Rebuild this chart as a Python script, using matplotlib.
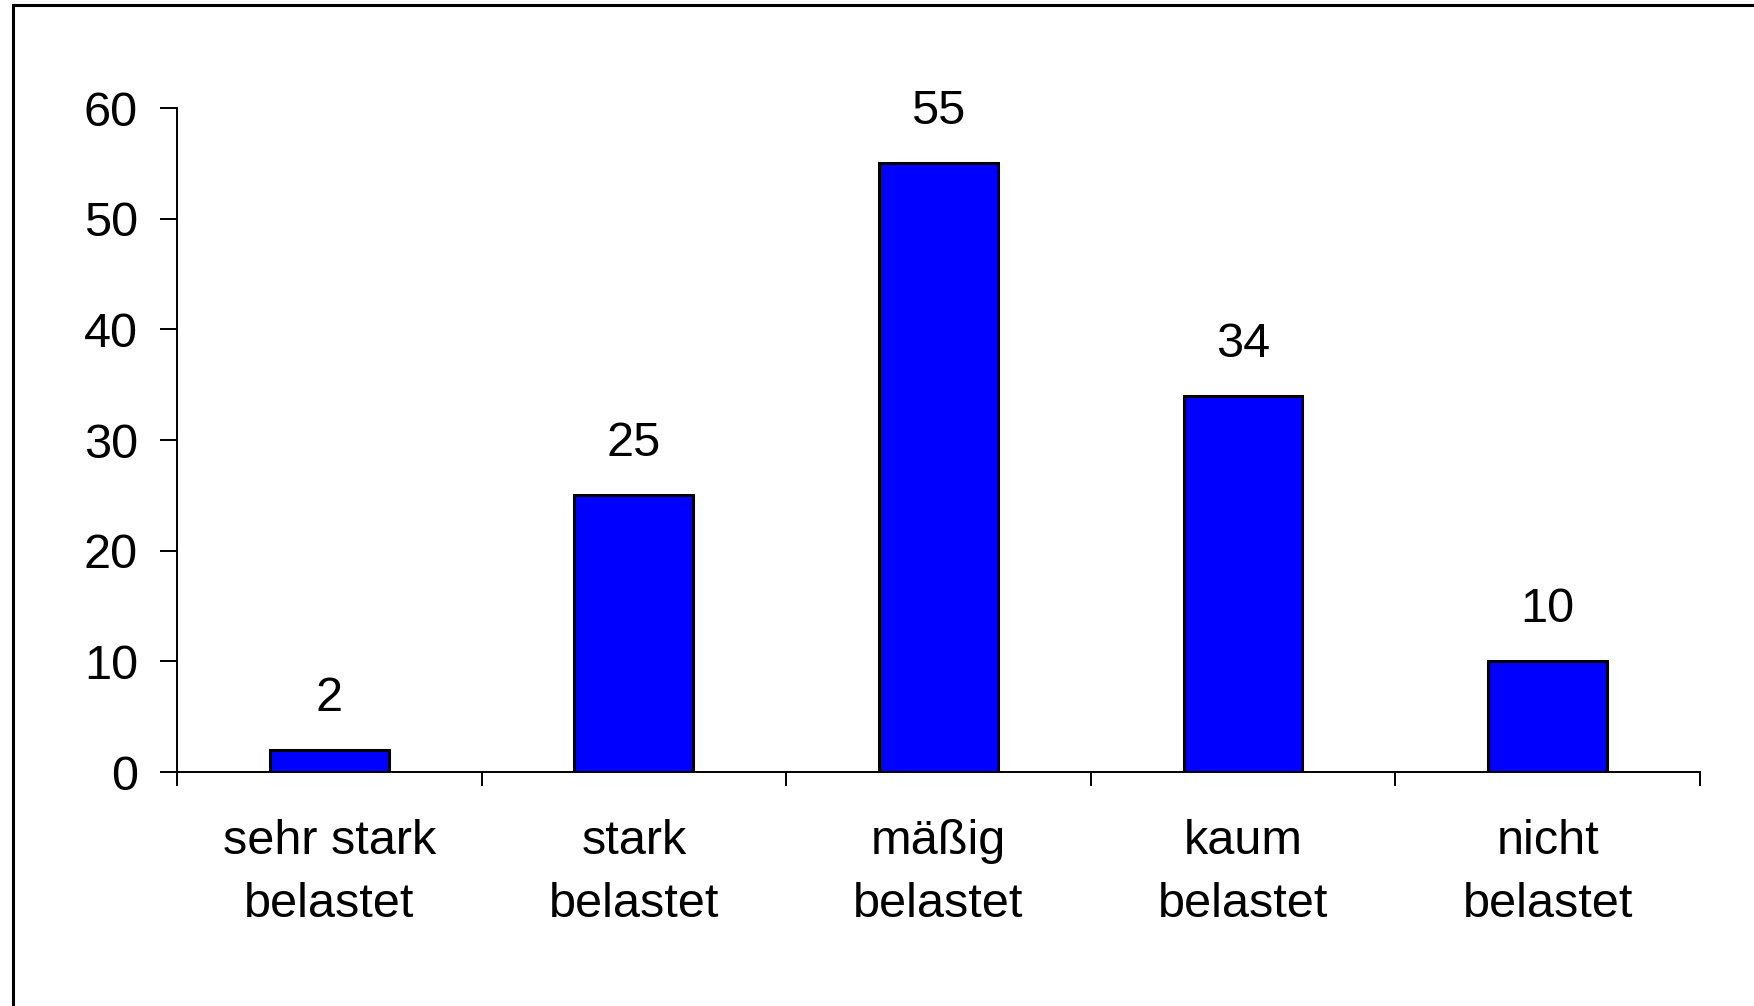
import matplotlib
matplotlib.use('Agg')
import matplotlib.pyplot as plt
from matplotlib.patches import Rectangle

plt.rcParams['font.family'] = ['Liberation Sans', 'DejaVu Sans']

categories = ['sehr stark\nbelastet', 'stark\nbelastet', 'mäßig\nbelastet',
              'kaum\nbelastet', 'nicht\nbelastet']
values = [2, 25, 55, 34, 10]
y_ticks = [0, 10, 20, 30, 40, 50, 60]

fs = 35

fig = plt.figure(figsize=(17.54, 10.06), dpi=100)
ax = fig.add_axes([0.1009, 0.2326, 0.9692 - 0.1009, 0.8926 - 0.2326])

x = list(range(len(categories)))
bars = ax.bar(x, values, width=0.39, color='#0000FF', edgecolor='black',
              linewidth=2.2, zorder=3)

for xi, v in zip(x, values):
    ax.annotate(str(v), (xi, v), xytext=(0, 21), textcoords='offset points',
                ha='center', va='bottom', fontsize=fs)

ax.set_xlim(-0.5, len(categories) - 0.5)
ax.set_ylim(0, 60)
ax.set_yticks(y_ticks)
ax.set_yticklabels([str(t) for t in y_ticks])

# boundary ticks between categories, labels sit in the middle
ax.set_xticks([i - 0.5 for i in range(len(categories) + 1)])
ax.set_xticklabels([])
ax.set_xticks(x, minor=True)
ax.set_xticklabels(categories, minor=True, fontsize=fs, linespacing=1.5)

ax.tick_params(axis='y', direction='out', length=12, width=1.4, pad=16,
               labelsize=fs)
ax.tick_params(axis='x', which='major', direction='out', length=10, width=1.4)
ax.tick_params(axis='x', which='minor', length=0, pad=34)

for s in ['top', 'right']:
    ax.spines[s].set_visible(False)
for s in ['left', 'bottom']:
    ax.spines[s].set_linewidth(1.4)

# outer frame (runs off the right and bottom edges)
frame = Rectangle((13 / 1754, -0.1), 1.2, 1.1 - 5 / 1006,
                  transform=fig.transFigure, fill=False, edgecolor='black',
                  linewidth=2.2, clip_on=False)
fig.patches.append(frame)

fig.savefig('out.png', dpi=100)
